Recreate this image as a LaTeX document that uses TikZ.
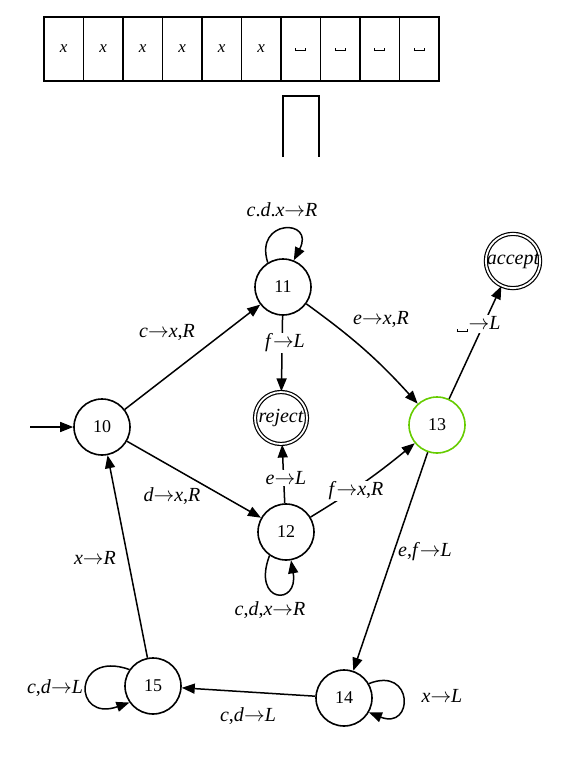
\documentclass[tikz,border=0pt]{standalone}
\usepackage{fontspec}
\setmainfont{Liberation Serif}
\usetikzlibrary{arrows.meta}
\definecolor{grn}{RGB}{102,204,0}
\newcommand{\toarr}{$\rightarrow$}
\newcommand{\blanksym}{\kern1pt\rule{1pt}{3.5pt}\kern-1pt\rule{11pt}{1pt}\kern-1pt\rule{1pt}{3.5pt}\kern1pt}
\tikzset{
  st/.style={circle, draw, line width=1.6pt, minimum size=56pt, inner sep=0pt, font=\fontsize{18}{20}\selectfont},
  fin/.style={circle, draw, double, double distance=1.8pt, line width=1.2pt, minimum size=52pt, inner sep=0pt, font=\fontsize{20}{22}\selectfont\itshape},
  tr/.style={-{Triangle[length=13pt,width=10pt]}, line width=1.5pt},
  lab/.style={font=\fontsize{20}{22}\selectfont, inner sep=1pt},
  onl/.style={lab, fill=white},
  cell/.style={draw, line width=1.6pt, minimum width=39.5pt, minimum height=64pt, inner sep=0pt, font=\fontsize{17}{18}\selectfont\itshape}
}
\begin{document}
\begin{tikzpicture}[x=1pt,y=-1pt]
\useasboundingbox (0,0) rectangle (582,764);
% tape
\foreach \i in {1,...,6}{
  \node[cell] (c\i) at ({44+39.5*(\i-0.5)},49) {x};
}
\foreach \i in {7,...,10}{
  \node[cell] (c\i) at ({44+39.5*(\i-0.5)},49) {\raisebox{-4pt}{\blanksym}};
}
% head
\draw[line width=1.6pt] (283,157) -- (283,96) -- (319,96) -- (319,157);
% states
\node[st] (n10) at (102,427) {10};
\node[st] (n11) at (283,287) {11};
\node[fin] (rej) at (281,418) {reject};
\node[st] (n12) at (286,532) {12};
\node[st, draw=grn] (n13) at (437,425) {13};
\node[fin] (acc) at (513,261) {accept};
\node[st] (n14) at (344,698) {14};
\node[st] (n15) at (153,686) {15};
\coordinate (s) at (30,427);
% edges
\draw[tr] (s) -- (n10);
\draw[tr] (n10) -- (n11);
\draw[tr] (n10) -- (n12);
\draw[tr] (n11) -- (rej);
\draw[tr] (n11) to[bend left=6] (n13);
\draw[tr] (n12) -- (rej);
\draw[tr] (n12) to[bend right=4] (n13);
\draw[tr] (n13) -- (acc);
\draw[tr] (n13) -- (n14);
\draw[tr] (n14) -- (n15);
\draw[tr] (n15) -- (n10);
% loops
\draw[tr] (n11.122) .. controls +(-14,-44) and +(22,-42) .. (n11.68);
\draw[tr] (n12.235) .. controls +(-18,48) and +(8,46) .. (n12.280);
\draw[tr] (n14.30) .. controls +(45,-18) and +(45,18) .. (n14.-30);
\draw[tr] (n15.145) .. controls +(-57,-20) and +(-57,20) .. (n15.215);
% labels
\node[lab] (l1011) at (167,332) {\textit{c}\toarr\textit{x},\textit{R}};
\node[lab] (l1012) at (172,496) {\textit{d}\toarr\textit{x},\textit{R}};
\node[lab] (l1111) at (282,210) {\textit{c}.\textit{d}.\textit{x}\toarr\textit{R}};
\node[onl] (l11r) at (285,343) {\textit{f}\toarr\textit{L}};
\node[lab] (l1113) at (381,319) {\textit{e}\toarr\textit{x},\textit{R}};
\node[onl] (l12r) at (286,478) {\textit{e}\toarr\textit{L}};
\node[lab] (l1212) at (270,610) {\textit{c},\textit{d},\textit{x}\toarr\textit{R}};
\node[onl] (l1213) at (356,491) {\textit{f}\toarr\textit{x},\textit{R}};
\node[onl] (l13a) at (478,324) {\raisebox{-3pt}{\blanksym}\toarr\textit{L}};
\node[lab] (l1314) at (425,552) {\textit{e},\textit{f}\toarr\textit{L}};
\node[lab] (l1414) at (442,696) {\textit{x}\toarr\textit{L}};
\node[lab] (l1415) at (248,716) {\textit{c},\textit{d}\toarr\textit{L}};
\node[lab] (l1515) at (55,688) {\textit{c},\textit{d}\toarr\textit{L}};
\node[lab] (l1510) at (95,558) {\textit{x}\toarr\textit{R}};
\end{tikzpicture}
\end{document}
